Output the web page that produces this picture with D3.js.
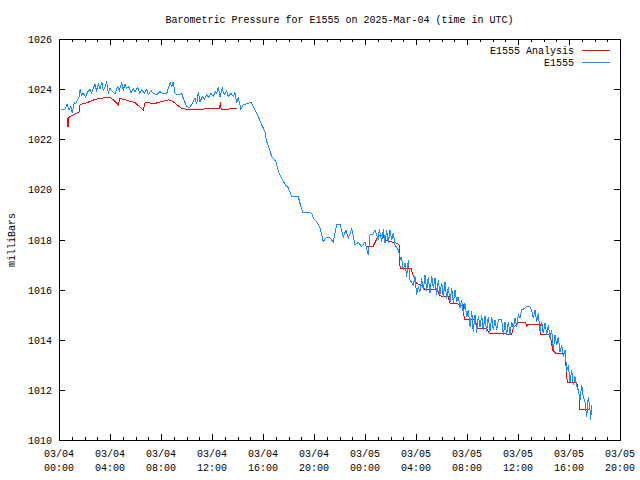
<!DOCTYPE html>
<html><head><meta charset="utf-8">
<script src="https://cdn.jsdelivr.net/npm/d3@7"></script>
<style>
body{margin:0;background:#fff}
svg{display:block}
text{font-family:"Liberation Mono","DejaVu Sans Mono",monospace;font-size:10px;fill:#000}
</style>
</head><body>
<svg id="c" width="640" height="480"></svg>
<script>
const title = "Barometric Pressure for E1555 on 2025-Mar-04 (time in UTC)";
const yLabel = "milliBars";
const seriesNames = ["E1555 Analysis", "E1555"];
const seriesColors = ["#ff0000", "#1a8cff"];

const xTickHours = [0, 4, 8, 12, 16, 20, 24, 28, 32, 36, 40, 44];
const xTickDates = ["03/04","03/04","03/04","03/04","03/04","03/04","03/05","03/05","03/05","03/05","03/05","03/05"];
const xTickTimes = ["00:00","04:00","08:00","12:00","16:00","20:00","00:00","04:00","08:00","12:00","16:00","20:00"];
const yTicks = [1010, 1012, 1014, 1016, 1018, 1020, 1022, 1024, 1026];

// E1555 observations: hours since 2025-03-04 00:00 UTC, pressure in mbar
const obsHours = [0.16,0.47,0.63,0.78,0.94,1.04,1.20,1.31,1.47,1.57,1.65,1.78,1.91,2.09,2.25,2.43,2.56,2.69,2.82,2.96,
3.08,3.22,3.35,3.47,3.61,3.74,3.87,4.00,4.18,4.39,4.60,4.73,4.92,5.04,5.18,5.31,5.49,5.65,5.83,5.96,
6.17,6.35,6.49,6.69,6.88,7.00,7.22,7.40,7.66,7.92,8.18,8.45,8.57,8.71,8.84,8.96,9.10,9.36,9.62,9.75,
10.02,10.27,10.45,10.67,10.80,10.93,11.06,11.24,11.40,11.58,11.76,11.92,12.10,12.24,12.37,12.49,12.63,12.81,12.96,13.15,
13.28,13.49,13.67,13.80,13.94,14.06,14.27,14.45,14.85,15.06,15.37,15.63,15.90,16.16,16.29,16.49,16.68,16.81,17.02,17.20,
17.47,17.73,17.98,18.25,18.77,18.90,19.11,19.55,19.82,19.95,20.21,20.47,20.73,20.94,21.25,21.51,21.78,22.04,22.30,22.51,
22.69,22.96,23.22,23.47,23.74,24.00,24.26,24.39,24.65,24.78,25.04,25.12,25.31,25.44,25.57,25.70,25.83,25.96,26.09,26.22,
26.35,26.61,26.80,26.86,27.00,27.14,27.27,27.40,27.53,27.79,27.92,28.05,28.18,28.31,28.45,28.57,28.71,28.84,28.96,29.10,
29.23,29.36,29.49,29.62,29.75,29.88,30.02,30.14,30.27,30.41,30.53,30.67,30.80,30.93,31.06,31.19,31.32,31.45,31.58,31.71,
31.84,31.98,32.10,32.24,32.37,32.49,32.63,32.76,32.89,33.02,33.15,33.27,33.41,33.54,33.67,33.80,33.94,34.06,34.20,34.33,
34.46,34.72,34.85,34.98,35.11,35.24,35.37,35.51,35.63,35.76,35.90,36.02,36.16,36.29,36.55,36.68,36.94,37.07,37.20,37.33,
37.47,37.59,37.73,37.86,37.98,38.12,38.25,38.38,38.51,38.64,38.77,38.90,39.04,39.16,39.29,39.43,39.55,39.69,39.82,39.95,
40.08,40.21,40.34,40.47,40.60,40.73,40.86,41.00,41.12,41.25,41.39,41.51,41.65,41.70,41.78];
const obsValues = [1023.19,1023.19,1023.39,1023.17,1023.30,1023.06,1023.46,1023.43,1023.57,1023.67,1023.99,1023.77,1023.83,1023.67,1023.90,1023.99,1023.83,1024.03,1024.20,1023.90,
1024.23,1023.99,1024.30,1023.94,1024.10,1024.30,1023.83,1024.03,1023.90,1023.81,1024.10,1023.94,1024.26,1023.97,1024.20,1024.03,1024.10,1023.86,1024.03,1023.90,
1024.07,1023.83,1023.99,1023.83,1023.99,1023.77,1023.94,1023.83,1023.77,1023.90,1023.81,1023.83,1024.03,1024.26,1024.10,1024.30,1023.83,1023.77,1023.83,1023.63,
1023.30,1023.27,1023.43,1023.63,1023.41,1023.90,1023.50,1023.70,1023.59,1023.77,1023.67,1023.83,1023.70,1023.90,1023.83,1024.07,1023.70,1024.03,1023.77,1023.94,
1023.70,1023.83,1023.70,1023.86,1023.46,1023.67,1023.19,1023.37,1023.43,1023.47,1023.17,1022.90,1022.57,1022.30,1021.90,1021.64,1021.30,1021.24,1021.10,1020.71,
1020.44,1020.20,1020.07,1019.71,1019.71,1019.44,1019.09,1019.09,1019.05,1018.85,1018.71,1018.47,1017.91,1018.07,1018.07,1017.89,1018.61,1018.61,1018.11,1018.38,
1018.05,1018.42,1017.78,1017.89,1017.71,1017.91,1017.38,1018.18,1018.22,1018.38,1017.98,1018.41,1017.91,1018.41,1017.87,1018.38,1017.87,1018.38,1017.98,1018.25,
1017.78,1017.58,1017.18,1017.31,1016.78,1017.07,1016.52,1017.18,1016.38,1016.18,1016.52,1015.79,1016.12,1015.92,1016.45,1015.99,1016.58,1015.96,1016.52,1015.88,
1016.54,1016.05,1016.45,1015.79,1016.38,1015.83,1016.28,1015.69,1016.32,1015.61,1016.12,1015.52,1016.05,1015.48,1015.99,1015.52,1015.72,1015.26,1015.59,1015.06,
1015.45,1014.92,1015.19,1014.52,1015.16,1014.32,1014.99,1014.28,1014.95,1014.52,1014.99,1014.39,1014.95,1014.32,1014.92,1014.32,1014.92,1014.39,1014.79,1014.39,
1014.79,1014.79,1014.19,1014.72,1014.19,1014.72,1014.19,1014.72,1014.46,1014.86,1014.52,1014.99,1014.86,1015.19,1015.26,1015.32,1015.32,1015.19,1014.86,1015.19,
1014.72,1015.06,1014.32,1014.72,1014.26,1014.66,1014.19,1014.59,1014.06,1014.39,1013.59,1014.19,1013.79,1014.12,1013.52,1013.79,1013.32,1013.59,1012.79,1012.93,
1012.33,1012.79,1012.19,1012.53,1012.13,1012.00,1011.60,1012.19,1011.73,1011.53,1010.93,1011.73,1011.20,1010.80,1011.40];

// E1555 Analysis (null = no analysis in that period)
const anaHours = [0.66,0.68,0.72,0.78,0.86,1.12,1.57,1.65,2.04,2.82,3.74,4.00,4.26,4.65,4.78,5.41,5.96,6.61,6.75,7.53,
8.57,8.84,9.62,10.27,10.80,11.71,12.60,12.66,12.72,12.86,13.94,null,
24.08,24.65,25.04,25.44,25.57,26.49,26.67,26.67,26.75,26.78,27.66,27.66,28.05,28.57,28.71,29.62,29.75,29.88,30.53,30.67,
31.19,31.58,31.72,31.78,31.86,32.63,32.76,32.76,33.54,33.74,35.51,35.63,36.02,36.55,36.68,36.81,37.73,37.78,38.51,38.72,
38.98,39.69,39.82,39.87,40.60,40.73,40.81,40.81,41.65];
const anaValues = [1022.49,1022.83,1022.49,1022.87,1022.90,1022.97,1023.08,1023.39,1023.43,1023.59,1023.67,1023.67,1023.57,1023.37,1023.63,1023.54,1023.46,1023.17,1023.46,1023.43,
1023.57,1023.54,1023.23,1023.17,1023.17,1023.23,1023.23,1023.50,1023.20,1023.19,1023.23,null,
1017.74,1017.74,1018.14,1018.14,1017.98,1017.85,1017.78,1017.45,1016.91,1016.85,1016.85,1016.72,1016.25,1016.14,1015.99,1015.99,1015.92,1015.75,1015.72,1015.45,
1015.45,1015.37,1015.39,1014.82,1014.79,1014.79,1014.59,1014.46,1014.46,1014.26,1014.22,1014.46,1014.70,1014.70,1014.56,1014.62,1014.62,1014.22,1014.22,1013.59,
1013.46,1013.46,1012.59,1012.30,1012.30,1011.93,1011.80,1011.20,1011.20];

const svg = d3.select("#c");
const L = 59, R = 620, T = 39, B = 440;
const x = d3.scaleLinear().domain([0, 44]).range([L, R]);
const y = d3.scaleLinear().domain([1010, 1026]).range([B, T]);

const minorHours = d3.range(0, 45).filter(h => h % 4 !== 0);

function axisGroup(axis, tx, ty) {
  const g = svg.append("g").attr("transform", `translate(${tx},${ty})`).call(axis);
  g.select(".domain").remove();
  g.selectAll("text").remove();
  g.selectAll("line").attr("stroke", "#000").attr("shape-rendering", "crispEdges");
  return g;
}
// bottom & top (major + minor), inward
axisGroup(d3.axisBottom(x).tickValues(xTickHours).tickSize(-6).tickSizeOuter(0), 0, B);
axisGroup(d3.axisBottom(x).tickValues(minorHours).tickSize(-3).tickSizeOuter(0), 0, B);
axisGroup(d3.axisTop(x).tickValues(xTickHours).tickSize(-6).tickSizeOuter(0), 0, T);
axisGroup(d3.axisTop(x).tickValues(minorHours).tickSize(-3).tickSizeOuter(0), 0, T);
// left & right, inward
axisGroup(d3.axisLeft(y).tickValues(yTicks).tickSize(-6).tickSizeOuter(0), L, 0);
axisGroup(d3.axisRight(y).tickValues(yTicks).tickSize(-6).tickSizeOuter(0), R, 0);

// border
svg.append("rect").attr("x", L + 0.5).attr("y", T + 0.5).attr("width", R - L).attr("height", B - T)
  .attr("fill", "none").attr("stroke", "#000").attr("shape-rendering", "crispEdges");

// y tick labels
svg.append("g").selectAll("text").data(yTicks).join("text")
  .attr("x", 52).attr("y", d => y(d) + 4).attr("text-anchor", "end").text(d => d);

// x tick labels (two lines)
const xl = svg.append("g").selectAll("g").data(xTickHours).join("g")
  .attr("transform", d => `translate(${x(d)},0)`);
xl.append("text").attr("y", 457).attr("text-anchor", "middle").text((d, i) => xTickDates[i]);
xl.append("text").attr("y", 471).attr("text-anchor", "middle").text((d, i) => xTickTimes[i]);

// title
svg.append("text").attr("x", (L + R) / 2).attr("y", 23).attr("text-anchor", "middle").text(title);
// y label
svg.append("text").attr("transform", "translate(15,240) rotate(-90)").attr("text-anchor", "middle").text(yLabel);

// data
const line = d3.line().defined(d => d[1] != null).x(d => x(d[0])).y(d => y(d[1]));
const anaData = anaHours.map((h, i) => [h, anaValues[i]]);
const obsData = obsHours.map((h, i) => [h, obsValues[i]]);
svg.append("path").datum(anaData).attr("d", line).attr("fill", "none")
  .attr("stroke", seriesColors[0]).attr("stroke-width", 1).attr("shape-rendering", "crispEdges");
svg.append("path").datum(obsData).attr("d", line).attr("fill", "none")
  .attr("stroke", seriesColors[1]).attr("stroke-width", 1).attr("shape-rendering", "crispEdges");

// legend
const lg = svg.append("g").selectAll("g").data(seriesNames).join("g")
  .attr("transform", (d, i) => `translate(0,${50 + i * 12})`);
lg.append("text").attr("x", 574).attr("y", 4).attr("text-anchor", "end").text(d => d);
lg.append("line").attr("x1", 582).attr("x2", 610).attr("y1", 0.5).attr("y2", 0.5)
  .attr("stroke", (d, i) => seriesColors[i]).attr("shape-rendering", "crispEdges");
</script>
</body></html>
